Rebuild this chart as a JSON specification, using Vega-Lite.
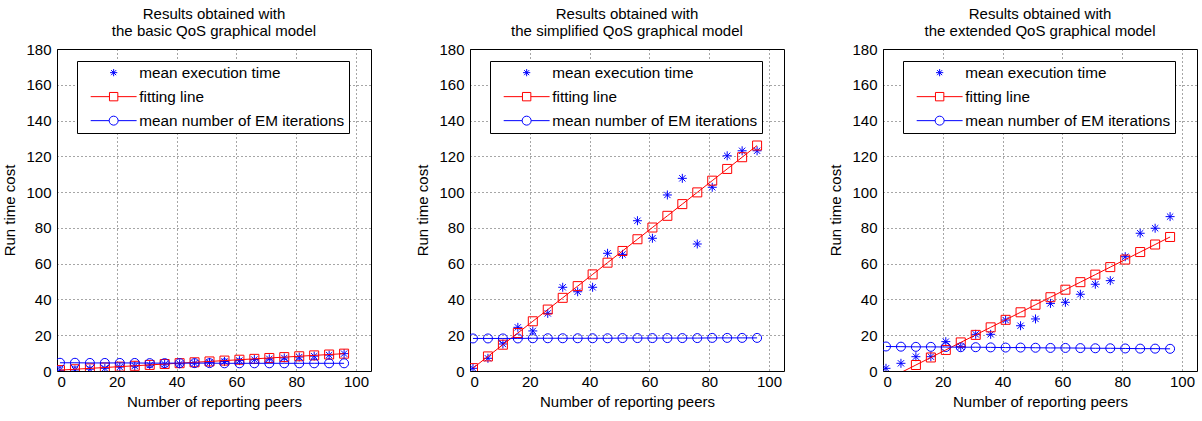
{
  "$schema": "https://vega.github.io/schema/vega-lite/v6.json",
  "padding": {"left": 2, "top": 6, "right": 0, "bottom": 0},
  "bounds": "flush",
  "spacing": 99,
  "config": {
    "font": "Liberation Sans",
    "view": {"stroke": "black", "strokeWidth": 1},
    "axis": {"labelFont": "Liberation Sans", "titleFont": "Liberation Sans", "labelFontSize": 15, "titleFontSize": 15, "titleFontWeight": "normal", "labelColor": "black", "titleColor": "black", "domain": false, "ticks": false, "labelOverlap": false, "gridColor": "#000000", "gridDash": [1, 3], "gridOpacity": 0.7, "gridWidth": 1},
    "title": {"font": "Liberation Sans", "fontSize": 15, "fontWeight": "normal", "color": "black", "lineHeight": 17, "offset": 3, "anchor": "middle"},
    "legend": {"labelFont": "Liberation Sans", "labelFontSize": 15.3, "labelColor": "black", "labelLimit": 0}
  },
  "resolve": {"scale": {"color": "independent"}, "legend": {"color": "independent"}},
  "datasets": {
    "basic": [
      {"x": 1, "series": "mean execution time", "y": 0.4}, {"x": 6, "series": "mean execution time", "y": 0.6}, {"x": 11, "series": "mean execution time", "y": 1.0}, {"x": 16, "series": "mean execution time", "y": 1.5}, {"x": 21, "series": "mean execution time", "y": 2.2}, {"x": 26, "series": "mean execution time", "y": 2.8}, {"x": 31, "series": "mean execution time", "y": 3.3}, {"x": 36, "series": "mean execution time", "y": 3.8}, {"x": 41, "series": "mean execution time", "y": 4.0}, {"x": 46, "series": "mean execution time", "y": 4.4}, {"x": 51, "series": "mean execution time", "y": 4.8}, {"x": 56, "series": "mean execution time", "y": 5.3}, {"x": 61, "series": "mean execution time", "y": 5.8}, {"x": 66, "series": "mean execution time", "y": 6.4}, {"x": 71, "series": "mean execution time", "y": 6.8}, {"x": 76, "series": "mean execution time", "y": 7.3}, {"x": 81, "series": "mean execution time", "y": 7.8}, {"x": 86, "series": "mean execution time", "y": 8.3}, {"x": 91, "series": "mean execution time", "y": 8.9}, {"x": 96, "series": "mean execution time", "y": 9.7},
      {"x": 1, "series": "fitting line", "y": 0.5}, {"x": 6, "series": "fitting line", "y": 0.98}, {"x": 11, "series": "fitting line", "y": 1.47}, {"x": 16, "series": "fitting line", "y": 1.95}, {"x": 21, "series": "fitting line", "y": 2.44}, {"x": 26, "series": "fitting line", "y": 2.92}, {"x": 31, "series": "fitting line", "y": 3.4}, {"x": 36, "series": "fitting line", "y": 3.89}, {"x": 41, "series": "fitting line", "y": 4.37}, {"x": 46, "series": "fitting line", "y": 4.86}, {"x": 51, "series": "fitting line", "y": 5.34}, {"x": 56, "series": "fitting line", "y": 5.82}, {"x": 61, "series": "fitting line", "y": 6.31}, {"x": 66, "series": "fitting line", "y": 6.79}, {"x": 71, "series": "fitting line", "y": 7.28}, {"x": 76, "series": "fitting line", "y": 7.76}, {"x": 81, "series": "fitting line", "y": 8.24}, {"x": 86, "series": "fitting line", "y": 8.73}, {"x": 91, "series": "fitting line", "y": 9.21}, {"x": 96, "series": "fitting line", "y": 9.7},
      {"x": 1, "series": "mean number of EM iterations", "y": 4.6}, {"x": 6, "series": "mean number of EM iterations", "y": 4.6}, {"x": 11, "series": "mean number of EM iterations", "y": 4.5}, {"x": 16, "series": "mean number of EM iterations", "y": 4.5}, {"x": 21, "series": "mean number of EM iterations", "y": 4.5}, {"x": 26, "series": "mean number of EM iterations", "y": 4.5}, {"x": 31, "series": "mean number of EM iterations", "y": 4.4}, {"x": 36, "series": "mean number of EM iterations", "y": 4.4}, {"x": 41, "series": "mean number of EM iterations", "y": 4.4}, {"x": 46, "series": "mean number of EM iterations", "y": 4.4}, {"x": 51, "series": "mean number of EM iterations", "y": 4.4}, {"x": 56, "series": "mean number of EM iterations", "y": 4.3}, {"x": 61, "series": "mean number of EM iterations", "y": 4.3}, {"x": 66, "series": "mean number of EM iterations", "y": 4.3}, {"x": 71, "series": "mean number of EM iterations", "y": 4.3}, {"x": 76, "series": "mean number of EM iterations", "y": 4.3}, {"x": 81, "series": "mean number of EM iterations", "y": 4.3}, {"x": 86, "series": "mean number of EM iterations", "y": 4.3}, {"x": 91, "series": "mean number of EM iterations", "y": 4.3}, {"x": 96, "series": "mean number of EM iterations", "y": 4.3}
    ],
    "simplified": [
      {"x": 1, "series": "mean execution time", "y": 1.5}, {"x": 6, "series": "mean execution time", "y": 7.1}, {"x": 11, "series": "mean execution time", "y": 15.1}, {"x": 16, "series": "mean execution time", "y": 24.4}, {"x": 21, "series": "mean execution time", "y": 22.4}, {"x": 26, "series": "mean execution time", "y": 32.2}, {"x": 31, "series": "mean execution time", "y": 46.8}, {"x": 36, "series": "mean execution time", "y": 44.3}, {"x": 41, "series": "mean execution time", "y": 46.8}, {"x": 46, "series": "mean execution time", "y": 65.8}, {"x": 51, "series": "mean execution time", "y": 65.2}, {"x": 56, "series": "mean execution time", "y": 84.0}, {"x": 61, "series": "mean execution time", "y": 74.2}, {"x": 66, "series": "mean execution time", "y": 98.4}, {"x": 71, "series": "mean execution time", "y": 107.7}, {"x": 76, "series": "mean execution time", "y": 71.0}, {"x": 81, "series": "mean execution time", "y": 102.7}, {"x": 86, "series": "mean execution time", "y": 120.3}, {"x": 91, "series": "mean execution time", "y": 123.1}, {"x": 96, "series": "mean execution time", "y": 123.1},
      {"x": 1, "series": "fitting line", "y": 1.6}, {"x": 6, "series": "fitting line", "y": 8.15}, {"x": 11, "series": "fitting line", "y": 14.7}, {"x": 16, "series": "fitting line", "y": 21.25}, {"x": 21, "series": "fitting line", "y": 27.8}, {"x": 26, "series": "fitting line", "y": 34.35}, {"x": 31, "series": "fitting line", "y": 40.9}, {"x": 36, "series": "fitting line", "y": 47.45}, {"x": 41, "series": "fitting line", "y": 54.0}, {"x": 46, "series": "fitting line", "y": 60.55}, {"x": 51, "series": "fitting line", "y": 67.1}, {"x": 56, "series": "fitting line", "y": 73.65}, {"x": 61, "series": "fitting line", "y": 80.2}, {"x": 66, "series": "fitting line", "y": 86.75}, {"x": 71, "series": "fitting line", "y": 93.3}, {"x": 76, "series": "fitting line", "y": 99.85}, {"x": 81, "series": "fitting line", "y": 106.4}, {"x": 86, "series": "fitting line", "y": 112.95}, {"x": 91, "series": "fitting line", "y": 119.5}, {"x": 96, "series": "fitting line", "y": 126.05},
      {"x": 1, "series": "mean number of EM iterations", "y": 18.2}, {"x": 6, "series": "mean number of EM iterations", "y": 18.2}, {"x": 11, "series": "mean number of EM iterations", "y": 18.2}, {"x": 16, "series": "mean number of EM iterations", "y": 18.2}, {"x": 21, "series": "mean number of EM iterations", "y": 18.3}, {"x": 26, "series": "mean number of EM iterations", "y": 18.3}, {"x": 31, "series": "mean number of EM iterations", "y": 18.3}, {"x": 36, "series": "mean number of EM iterations", "y": 18.3}, {"x": 41, "series": "mean number of EM iterations", "y": 18.3}, {"x": 46, "series": "mean number of EM iterations", "y": 18.3}, {"x": 51, "series": "mean number of EM iterations", "y": 18.4}, {"x": 56, "series": "mean number of EM iterations", "y": 18.4}, {"x": 61, "series": "mean number of EM iterations", "y": 18.4}, {"x": 66, "series": "mean number of EM iterations", "y": 18.4}, {"x": 71, "series": "mean number of EM iterations", "y": 18.4}, {"x": 76, "series": "mean number of EM iterations", "y": 18.4}, {"x": 81, "series": "mean number of EM iterations", "y": 18.5}, {"x": 86, "series": "mean number of EM iterations", "y": 18.5}, {"x": 91, "series": "mean number of EM iterations", "y": 18.5}, {"x": 96, "series": "mean number of EM iterations", "y": 18.5}
    ],
    "extended": [
      {"x": 1, "series": "mean execution time", "y": 1.5}, {"x": 6, "series": "mean execution time", "y": 4.3}, {"x": 11, "series": "mean execution time", "y": 8.0}, {"x": 16, "series": "mean execution time", "y": 8.0}, {"x": 21, "series": "mean execution time", "y": 16.4}, {"x": 26, "series": "mean execution time", "y": 13.6}, {"x": 31, "series": "mean execution time", "y": 20.5}, {"x": 36, "series": "mean execution time", "y": 20.5}, {"x": 41, "series": "mean execution time", "y": 28.5}, {"x": 46, "series": "mean execution time", "y": 25.3}, {"x": 51, "series": "mean execution time", "y": 29.1}, {"x": 56, "series": "mean execution time", "y": 37.8}, {"x": 61, "series": "mean execution time", "y": 38.4}, {"x": 66, "series": "mean execution time", "y": 42.9}, {"x": 71, "series": "mean execution time", "y": 48.5}, {"x": 76, "series": "mean execution time", "y": 50.5}, {"x": 81, "series": "mean execution time", "y": 63.9}, {"x": 86, "series": "mean execution time", "y": 77.0}, {"x": 91, "series": "mean execution time", "y": 79.8}, {"x": 96, "series": "mean execution time", "y": 86.3},
      {"x": 1, "series": "fitting line", "y": -5.07}, {"x": 6, "series": "fitting line", "y": -0.86}, {"x": 11, "series": "fitting line", "y": 3.35}, {"x": 16, "series": "fitting line", "y": 7.56}, {"x": 21, "series": "fitting line", "y": 11.77}, {"x": 26, "series": "fitting line", "y": 15.98}, {"x": 31, "series": "fitting line", "y": 20.19}, {"x": 36, "series": "fitting line", "y": 24.4}, {"x": 41, "series": "fitting line", "y": 28.61}, {"x": 46, "series": "fitting line", "y": 32.82}, {"x": 51, "series": "fitting line", "y": 37.03}, {"x": 56, "series": "fitting line", "y": 41.24}, {"x": 61, "series": "fitting line", "y": 45.45}, {"x": 66, "series": "fitting line", "y": 49.66}, {"x": 71, "series": "fitting line", "y": 53.87}, {"x": 76, "series": "fitting line", "y": 58.08}, {"x": 81, "series": "fitting line", "y": 62.29}, {"x": 86, "series": "fitting line", "y": 66.5}, {"x": 91, "series": "fitting line", "y": 70.71}, {"x": 96, "series": "fitting line", "y": 74.92},
      {"x": 1, "series": "mean number of EM iterations", "y": 13.7}, {"x": 6, "series": "mean number of EM iterations", "y": 13.6}, {"x": 11, "series": "mean number of EM iterations", "y": 13.5}, {"x": 16, "series": "mean number of EM iterations", "y": 13.5}, {"x": 21, "series": "mean number of EM iterations", "y": 13.4}, {"x": 26, "series": "mean number of EM iterations", "y": 13.3}, {"x": 31, "series": "mean number of EM iterations", "y": 13.3}, {"x": 36, "series": "mean number of EM iterations", "y": 13.2}, {"x": 41, "series": "mean number of EM iterations", "y": 13.1}, {"x": 46, "series": "mean number of EM iterations", "y": 13.1}, {"x": 51, "series": "mean number of EM iterations", "y": 13.0}, {"x": 56, "series": "mean number of EM iterations", "y": 12.9}, {"x": 61, "series": "mean number of EM iterations", "y": 12.9}, {"x": 66, "series": "mean number of EM iterations", "y": 12.8}, {"x": 71, "series": "mean number of EM iterations", "y": 12.7}, {"x": 76, "series": "mean number of EM iterations", "y": 12.7}, {"x": 81, "series": "mean number of EM iterations", "y": 12.6}, {"x": 86, "series": "mean number of EM iterations", "y": 12.5}, {"x": 91, "series": "mean number of EM iterations", "y": 12.5}, {"x": 96, "series": "mean number of EM iterations", "y": 12.4}
    ]
  },
  "hconcat": [
    {
      "width": 314, "height": 322,
      "title": {"text": ["Results obtained with", "the basic QoS graphical model"]},
      "data": {"name": "basic"},
      "layer": [
        {"mark": {"type": "point", "filled": false, "strokeWidth": 1, "size": 81, "opacity": 1, "clip": true, "shape": {"expr": "datum.series ? (datum.series == 'fitting line' ? 'square' : datum.series == 'mean number of EM iterations' ? 'circle' : 'M0,-1L0,1M-1,0L1,0M-0.7,-0.7L0.7,0.7M-0.7,0.7L0.7,-0.7') : (datum.value == 'fitting line' ? 'M-5.1,0L-0.93,0M0.93,0L5.1,0M-0.93,-0.93L0.93,-0.93L0.93,0.93L-0.93,0.93Z' : datum.value == 'mean number of EM iterations' ? 'M-5.1,0L-1,0M1,0L5.1,0M-1,0A1,1,0,1,1,1,0A1,1,0,1,1,-1,0Z' : 'M0,-0.8L0,0.8M-0.8,0L0.8,0M-0.56,-0.56L0.56,0.56M-0.56,0.56L0.56,-0.56')"}},
         "transform": [{"filter": "datum.y >= 0"}],
         "encoding": {
           "x": {"field": "x", "type": "quantitative", "scale": {"domain": [0, 105], "nice": false}, "axis": {"values": [0, 20, 40, 60, 80, 100], "tickCount": 20, "title": "Number of reporting peers", "labelPadding": 3, "titlePadding": 5}},
           "y": {"field": "y", "type": "quantitative", "scale": {"domain": [0, 180], "nice": false}, "axis": {"values": [0, 20, 40, 60, 80, 100, 120, 140, 160, 180], "tickCount": 20, "title": "Run time cost", "labelPadding": 6, "titlePadding": 8}},
           "color": {"field": "series", "type": "nominal", "scale": {"domain": ["mean execution time", "fitting line", "mean number of EM iterations"], "range": ["#0000ff", "#ff0000", "#0000ff"]}, "legend": {"title": null, "orient": "none", "legendX": 20, "legendY": 12, "strokeColor": "black", "fillColor": "white", "padding": 4, "rowPadding": 8, "symbolSize": 81, "symbolStrokeWidth": 1, "symbolOffset": 25, "labelOffset": 18}}}},
        {"mark": {"type": "line", "strokeWidth": 1, "clip": true},
         "transform": [{"filter": "datum.series != 'mean execution time'"}],
         "encoding": {
           "x": {"field": "x", "type": "quantitative"},
           "y": {"field": "y", "type": "quantitative"},
           "color": {"field": "series", "type": "nominal"},
           "detail": {"field": "series"}}}
      ]
    },
    {
      "width": 314, "height": 322,
      "title": {"text": ["Results obtained with", "the simplified QoS graphical model"]},
      "data": {"name": "simplified"},
      "layer": [
        {"mark": {"type": "point", "filled": false, "strokeWidth": 1, "size": 81, "opacity": 1, "clip": true, "shape": {"expr": "datum.series ? (datum.series == 'fitting line' ? 'square' : datum.series == 'mean number of EM iterations' ? 'circle' : 'M0,-1L0,1M-1,0L1,0M-0.7,-0.7L0.7,0.7M-0.7,0.7L0.7,-0.7') : (datum.value == 'fitting line' ? 'M-5.1,0L-0.93,0M0.93,0L5.1,0M-0.93,-0.93L0.93,-0.93L0.93,0.93L-0.93,0.93Z' : datum.value == 'mean number of EM iterations' ? 'M-5.1,0L-1,0M1,0L5.1,0M-1,0A1,1,0,1,1,1,0A1,1,0,1,1,-1,0Z' : 'M0,-0.8L0,0.8M-0.8,0L0.8,0M-0.56,-0.56L0.56,0.56M-0.56,0.56L0.56,-0.56')"}},
         "transform": [{"filter": "datum.y >= 0"}],
         "encoding": {
           "x": {"field": "x", "type": "quantitative", "scale": {"domain": [0, 105], "nice": false}, "axis": {"values": [0, 20, 40, 60, 80, 100], "tickCount": 20, "title": "Number of reporting peers", "labelPadding": 3, "titlePadding": 5}},
           "y": {"field": "y", "type": "quantitative", "scale": {"domain": [0, 180], "nice": false}, "axis": {"values": [0, 20, 40, 60, 80, 100, 120, 140, 160, 180], "tickCount": 20, "title": "Run time cost", "labelPadding": 6, "titlePadding": 8}},
           "color": {"field": "series", "type": "nominal", "scale": {"domain": ["mean execution time", "fitting line", "mean number of EM iterations"], "range": ["#0000ff", "#ff0000", "#0000ff"]}, "legend": {"title": null, "orient": "none", "legendX": 20, "legendY": 12, "strokeColor": "black", "fillColor": "white", "padding": 4, "rowPadding": 8, "symbolSize": 81, "symbolStrokeWidth": 1, "symbolOffset": 25, "labelOffset": 18}}}},
        {"mark": {"type": "line", "strokeWidth": 1, "clip": true},
         "transform": [{"filter": "datum.series != 'mean execution time'"}],
         "encoding": {
           "x": {"field": "x", "type": "quantitative"},
           "y": {"field": "y", "type": "quantitative"},
           "color": {"field": "series", "type": "nominal"},
           "detail": {"field": "series"}}}
      ]
    },
    {
      "width": 314, "height": 322,
      "title": {"text": ["Results obtained with", "the extended QoS graphical model"]},
      "data": {"name": "extended"},
      "layer": [
        {"mark": {"type": "point", "filled": false, "strokeWidth": 1, "size": 81, "opacity": 1, "clip": true, "shape": {"expr": "datum.series ? (datum.series == 'fitting line' ? 'square' : datum.series == 'mean number of EM iterations' ? 'circle' : 'M0,-1L0,1M-1,0L1,0M-0.7,-0.7L0.7,0.7M-0.7,0.7L0.7,-0.7') : (datum.value == 'fitting line' ? 'M-5.1,0L-0.93,0M0.93,0L5.1,0M-0.93,-0.93L0.93,-0.93L0.93,0.93L-0.93,0.93Z' : datum.value == 'mean number of EM iterations' ? 'M-5.1,0L-1,0M1,0L5.1,0M-1,0A1,1,0,1,1,1,0A1,1,0,1,1,-1,0Z' : 'M0,-0.8L0,0.8M-0.8,0L0.8,0M-0.56,-0.56L0.56,0.56M-0.56,0.56L0.56,-0.56')"}},
         "transform": [{"filter": "datum.y >= 0"}],
         "encoding": {
           "x": {"field": "x", "type": "quantitative", "scale": {"domain": [0, 105], "nice": false}, "axis": {"values": [0, 20, 40, 60, 80, 100], "tickCount": 20, "title": "Number of reporting peers", "labelPadding": 3, "titlePadding": 5}},
           "y": {"field": "y", "type": "quantitative", "scale": {"domain": [0, 180], "nice": false}, "axis": {"values": [0, 20, 40, 60, 80, 100, 120, 140, 160, 180], "tickCount": 20, "title": "Run time cost", "labelPadding": 6, "titlePadding": 8}},
           "color": {"field": "series", "type": "nominal", "scale": {"domain": ["mean execution time", "fitting line", "mean number of EM iterations"], "range": ["#0000ff", "#ff0000", "#0000ff"]}, "legend": {"title": null, "orient": "none", "legendX": 20, "legendY": 12, "strokeColor": "black", "fillColor": "white", "padding": 4, "rowPadding": 8, "symbolSize": 81, "symbolStrokeWidth": 1, "symbolOffset": 25, "labelOffset": 18}}}},
        {"mark": {"type": "line", "strokeWidth": 1, "clip": true},
         "transform": [{"filter": "datum.series != 'mean execution time'"}],
         "encoding": {
           "x": {"field": "x", "type": "quantitative"},
           "y": {"field": "y", "type": "quantitative"},
           "color": {"field": "series", "type": "nominal"},
           "detail": {"field": "series"}}}
      ]
    }
  ]
}
